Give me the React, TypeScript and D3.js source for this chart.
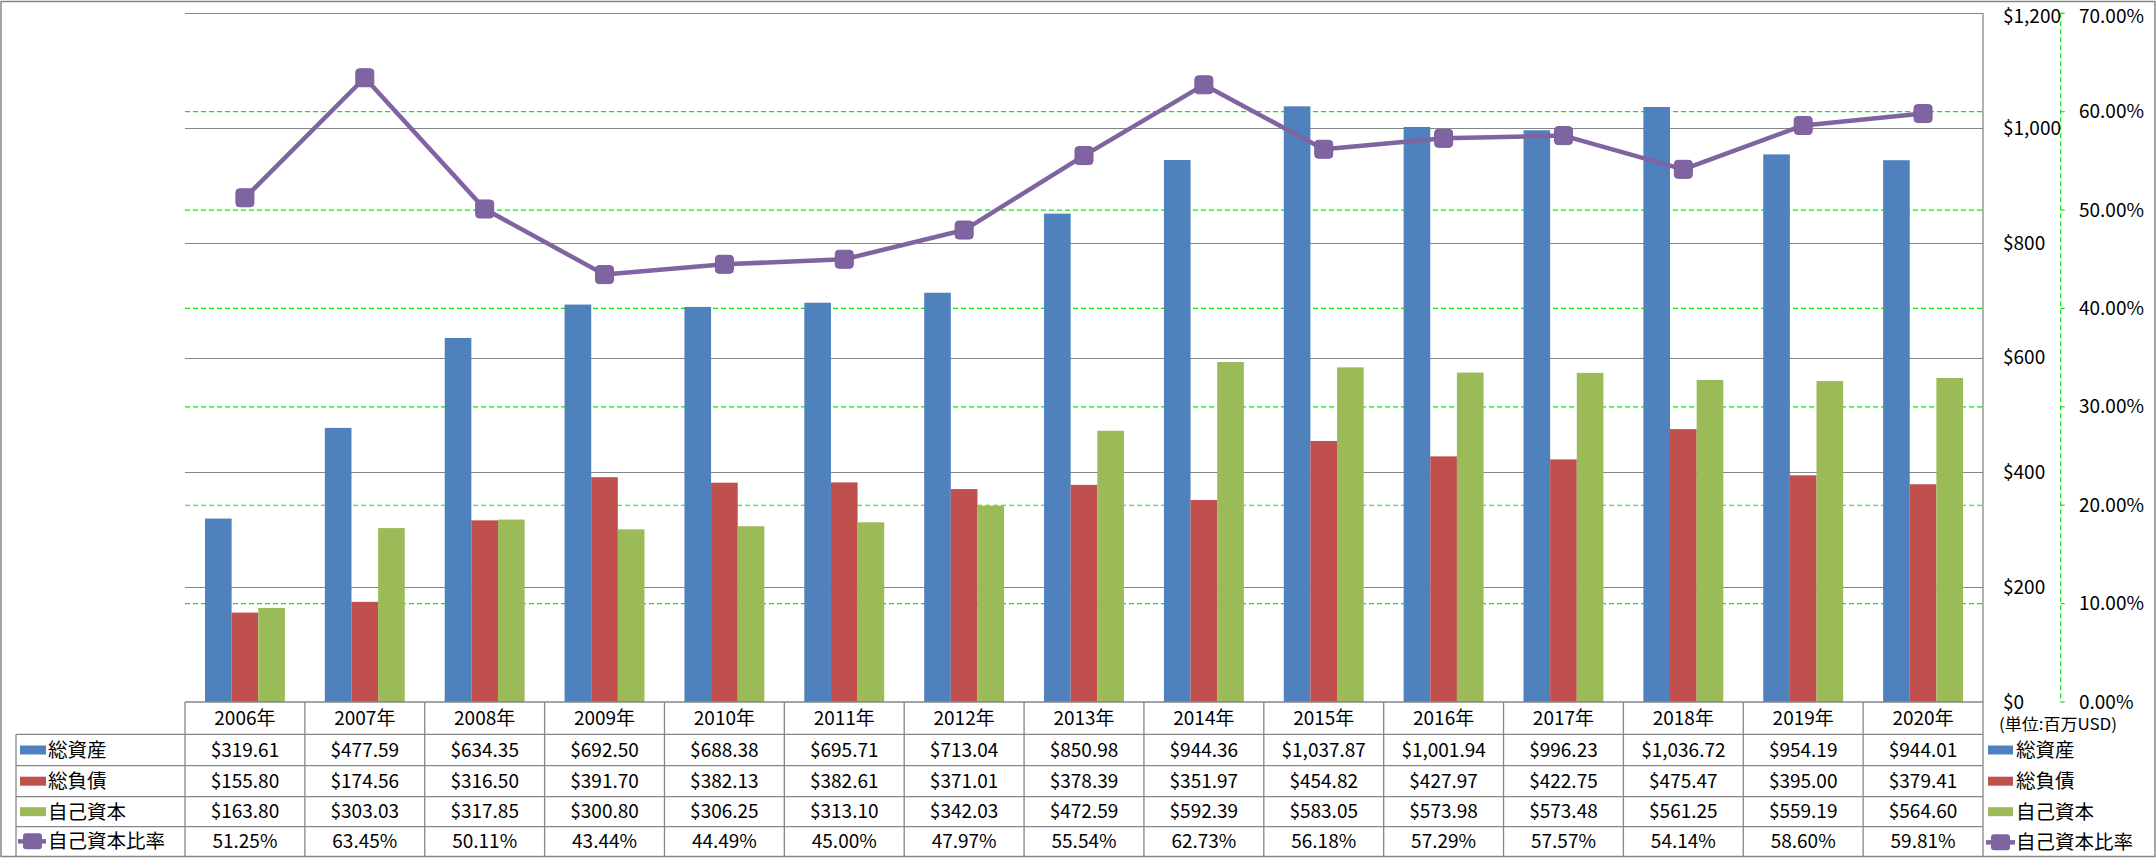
import React from "react";
import * as d3 from "d3";

const years = ["2006年","2007年","2008年","2009年","2010年","2011年","2012年","2013年","2014年","2015年","2016年","2017年","2018年","2019年","2020年"];
const totalAssets = [319.61,477.59,634.35,692.50,688.38,695.71,713.04,850.98,944.36,1037.87,1001.94,996.23,1036.72,954.19,944.01];
const totalLiabilities = [155.80,174.56,316.50,391.70,382.13,382.61,371.01,378.39,351.97,454.82,427.97,422.75,475.47,395.00,379.41];
const equity = [163.80,303.03,317.85,300.80,306.25,313.10,342.03,472.59,592.39,583.05,573.98,573.48,561.25,559.19,564.60];
const equityRatio = [51.25,63.45,50.11,43.44,44.49,45.00,47.97,55.54,62.73,56.18,57.29,57.57,54.14,58.60,59.81];

const seriesNames = ["総資産","総負債","自己資本"];
const lineName = "自己資本比率";
const unitLabel = "(単位:百万USD)";
const leftTicks = [0,200,400,600,800,1000,1200];
const rightTicks = [0,10,20,30,40,50,60,70];

const COLORS = ["#4F81BD","#C0504D","#9BBB59"];
const LINE_COLOR = "#8064A2";
const GRID = "#868686";
const GREEN = "#00EE00";
const FONT = "'Noto Sans CJK JP', 'Noto Sans', sans-serif";

const W = 2156, H = 858;
const PL = 185, PR = 1983, PT = 13.3, PB = 702;
const rowLines = [702, 734.3, 765.7, 796.7, 826.7, 856];
const legendLeftX = 16;

export default function App() {
  const x = d3.scaleBand<string>().domain(years).range([PL, PR]).paddingInner(0).paddingOuter(0);
  const bw = x.bandwidth();
  const xs = d3.scaleBand<string>().domain(seriesNames).range([bw / 6, bw * 5 / 6]).padding(0);
  const y = d3.scaleLinear().domain([0, 1200]).range([PB, PT]);
  const y2 = d3.scaleLinear().domain([0, 70]).range([PB, PT]);
  const seriesData = [totalAssets, totalLiabilities, equity];
  const fmtMoney = d3.format("$,.2f");
  const fmtPct = (v: number) => d3.format(".2f")(v) + "%";
  const cx = (i: number) => (x(years[i]) as number) + bw / 2;
  const linePath = d3.line<number>().x((_, i) => cx(i)).y((d) => y2(d))(equityRatio) as string;

  const rowCenters = rowLines.slice(0, -1).map((v, i) => (v + rowLines[i + 1]) / 2);
  const tableRows = [
    ...seriesData.map((arr) => arr.map(fmtMoney)),
    equityRatio.map(fmtPct),
  ];
  const fs = 19;
  const lfs = 19.5;
  const axis2X = 2060.7;
  const labelY = (v: number) => Math.max(v, 16);

  return (
    <svg width={W} height={H} style={{ position: "absolute", left: 0, top: 0, background: "#fff" }} fontFamily={FONT}>
      <rect x={0} y={0} width={W} height={H} fill="#fff" />
      {rightTicks.filter((t) => t > 0 && t < 70).map((t) => (
        <line key={"g" + t} x1={PL} x2={PR} y1={y2(t)} y2={y2(t)} stroke={GREEN} strokeWidth={1.2} strokeDasharray="5,3" />
      ))}
      {leftTicks.filter((t) => t > 0).map((t) => (
        <line key={"p" + t} x1={PL} x2={PR} y1={Math.round(y(t)) + 0.5} y2={Math.round(y(t)) + 0.5} stroke={GRID} strokeWidth={1.2} />
      ))}
      {seriesData.map((arr, si) => (
        <g key={"s" + si} fill={COLORS[si]}>
          {arr.map((v, i) => (
            <rect key={i} x={(x(years[i]) as number) + (xs(seriesNames[si]) as number)} width={xs.bandwidth()} y={y(v)} height={PB - y(v)} />
          ))}
        </g>
      ))}
      <path d={linePath} fill="none" stroke={LINE_COLOR} strokeWidth={4.5} strokeLinejoin="round" />
      {equityRatio.map((v, i) => (
        <rect key={"m" + i} x={cx(i) - 9} y={y2(v) - 9} width={18} height={18} rx={3.5} fill={LINE_COLOR} stroke="#7A5C9C" strokeWidth={1} />
      ))}
      <line x1={axis2X} x2={axis2X} y1={PT} y2={PB} stroke={GREEN} strokeWidth={1.2} strokeDasharray="5,3" />
      {rightTicks.map((t) => (
        <line key={"tk" + t} x1={axis2X} x2={axis2X + 4} y1={y2(t)} y2={y2(t)} stroke={GREEN} strokeWidth={1.2} />
      ))}
      {leftTicks.map((t) => (
        <text key={"lt" + t} x={2003} y={labelY(y(t))} dy="0.35em" fontSize={fs} fill="#000">{d3.format("$,")(t)}</text>
      ))}
      {rightTicks.map((t) => (
        <text key={"rt" + t} x={2079} y={labelY(y2(t))} dy="0.35em" fontSize={fs} fill="#000">{d3.format(".2f")(t) + "%"}</text>
      ))}
      <text x={1999} y={724} dy="0.35em" fontSize={16} textLength={118} lengthAdjust="spacingAndGlyphs" fill="#000">{unitLabel}</text>

      <g stroke={GRID} strokeWidth={1.3}>
        <line x1={PL} x2={PR} y1={rowLines[0]} y2={rowLines[0]} />
        {rowLines.slice(1, -1).map((r, i) => (
          <line key={"r" + i} x1={legendLeftX} x2={PR} y1={r} y2={r} />
        ))}
        <line x1={legendLeftX} x2={legendLeftX} y1={rowLines[1]} y2={rowLines[5]} />
        {years.map((yr) => (
          <line key={"c" + yr} x1={x(yr) as number} x2={x(yr) as number} y1={rowLines[0]} y2={rowLines[5]} />
        ))}
        <line x1={PR} x2={PR} y1={PT} y2={rowLines[5]} />
      </g>
      {years.map((yr, i) => (
        <text key={"h" + yr} x={cx(i)} y={rowCenters[0]} dy="0.35em" textAnchor="middle" fontSize={fs} fill="#000">{yr}</text>
      ))}
      {tableRows.map((row, ri) => row.map((txt, i) => (
        <text key={"t" + ri + "_" + i} x={cx(i)} y={rowCenters[ri + 1]} dy="0.35em" textAnchor="middle" fontSize={fs} fill="#000">{txt}</text>
      )))}
      {seriesNames.map((n, si) => (
        <g key={"ll" + si}>
          <rect x={20} y={rowCenters[si + 1] - 4.5} width={26} height={9} fill={COLORS[si]} />
          <text x={48} y={rowCenters[si + 1]} dy="0.35em" fontSize={lfs} fill="#000">{n}</text>
        </g>
      ))}
      <g>
        <line x1={18} x2={46} y1={rowCenters[4]} y2={rowCenters[4]} stroke={LINE_COLOR} strokeWidth={4.5} />
        <rect x={23} y={rowCenters[4] - 8} width={19} height={16} rx={3} fill={LINE_COLOR} />
        <text x={48} y={rowCenters[4]} dy="0.35em" fontSize={lfs} fill="#000">{lineName}</text>
      </g>
      {seriesNames.map((n, si) => (
        <g key={"rl" + si}>
          <rect x={1988} y={rowCenters[si + 1] - 4.5} width={25} height={9} fill={COLORS[si]} />
          <text x={2016} y={rowCenters[si + 1]} dy="0.35em" fontSize={lfs} fill="#000">{n}</text>
        </g>
      ))}
      <g>
        <line x1={1986} x2={2015} y1={rowCenters[4] + 1} y2={rowCenters[4] + 1} stroke={LINE_COLOR} strokeWidth={4.5} />
        <rect x={1991} y={rowCenters[4] + 1 - 8} width={19} height={16} rx={3} fill={LINE_COLOR} />
        <text x={2016} y={rowCenters[4] + 1} dy="0.35em" fontSize={lfs} fill="#000">{lineName}</text>
      </g>
      <rect x={1} y={1.5} width={2154} height={855} fill="none" stroke={GRID} strokeWidth={1.5} />
    </svg>
  );
}
